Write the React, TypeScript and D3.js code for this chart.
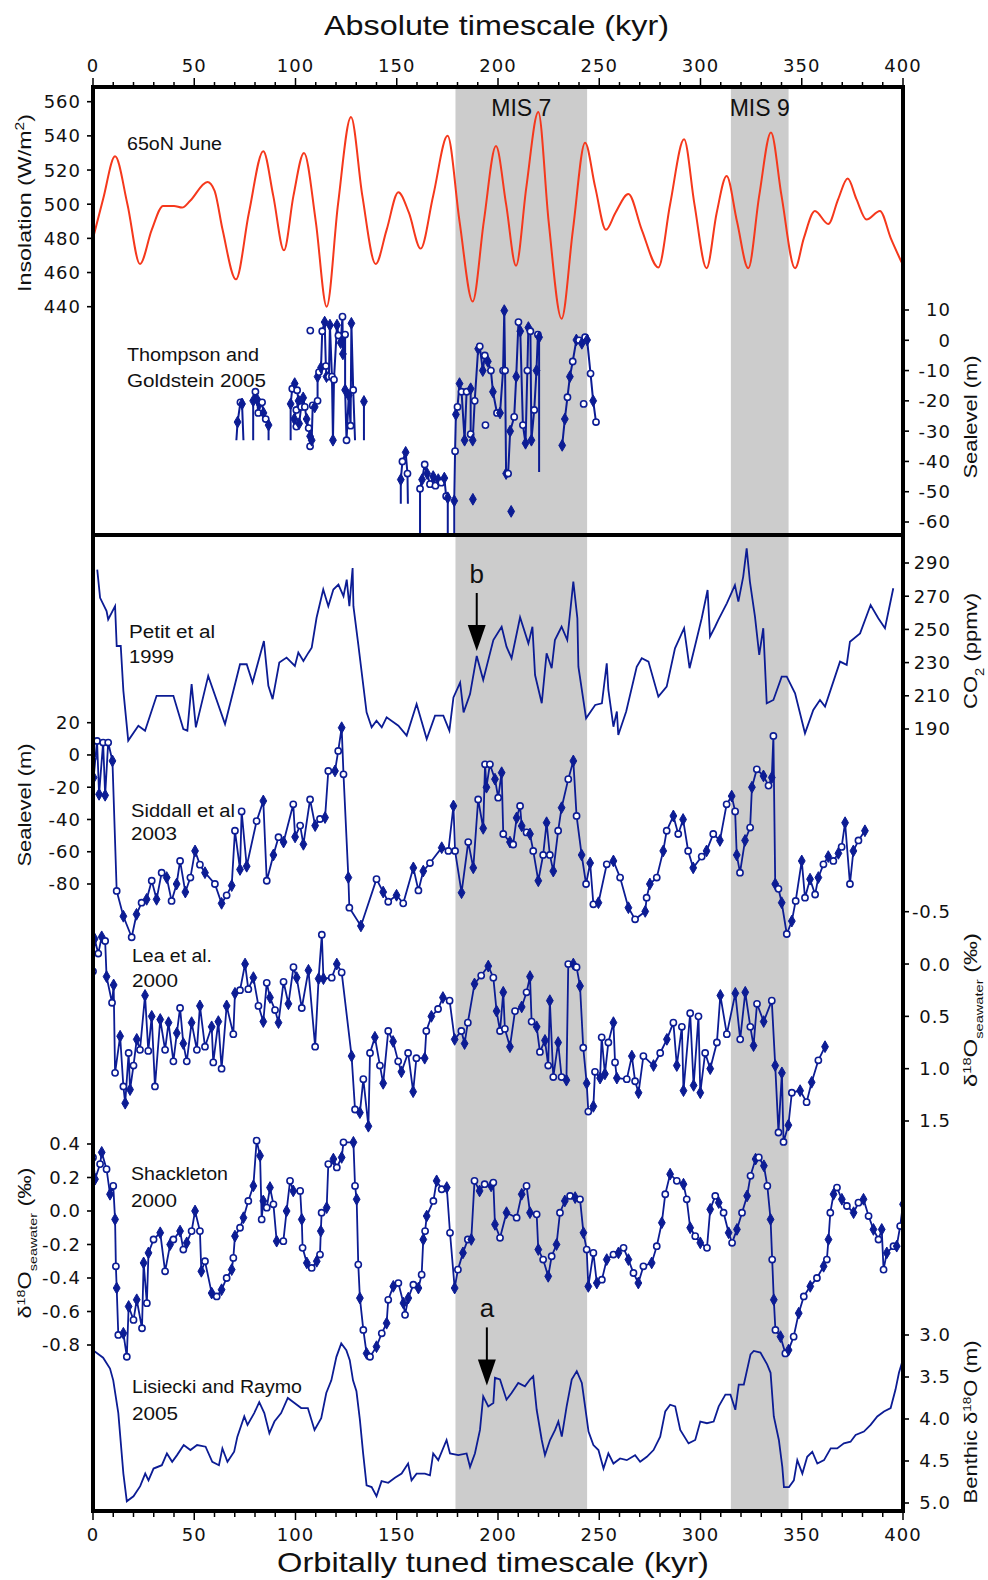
import React from 'react';
import * as d3 from 'd3';

// ---------------- DATA ----------------
const kyrMajorTicks = [0, 50, 100, 150, 200, 250, 300, 350, 400];
const kyrMinorTicks = d3.range(0, 401, 10);

const misBands: [number, number, string][] = [
  [179, 244, 'MIS 7'],
  [315, 343.5, 'MIS 9'],
];

const insolationTicks = [440, 460, 480, 500, 520, 540, 560];
const thompsonTicks = [-60, -50, -40, -30, -20, -10, 0, 10];
const co2Ticks = [190, 210, 230, 250, 270, 290];
const siddallTicks = [-80, -60, -40, -20, 0, 20];
const leaTicks = [-0.5, 0.0, 0.5, 1.0, 1.5];
const shackletonTicks = [-0.8, -0.6, -0.4, -0.2, 0.0, 0.2, 0.4];
const benthicTicks = [3.0, 3.5, 4.0, 4.5, 5.0];

// 65N June insolation (W/m2)
const insolation: [number, number][] = [
  [0, 480], [5, 503], [10.9, 528], [17, 500], [23.2, 465], [29, 485], [34.6, 499], [40, 499], [44, 498], [48, 502],
  [56.5, 513], [60, 508], [64, 485], [70.6, 456], [77, 495], [84.1, 531], [89, 505], [94.3, 473], [99, 505],
  [104.2, 530], [110, 490], [115.4, 440], [121, 500], [127.4, 551], [133, 505], [139.6, 465], [145, 485],
  [150.8, 507], [156, 495], [161.8, 474], [168, 505], [175.1, 540], [181, 490], [187.5, 443], [193, 490],
  [199, 534], [204, 500], [208.9, 464], [214, 510], [219.9, 554], [225, 490], [231.4, 433], [237, 485],
  [243, 536], [248, 510], [253.3, 485], [258, 495], [264.4, 506], [271, 485], [279.2, 463], [285, 500],
  [291.9, 538], [297, 500], [303, 462.5], [308, 495], [312.9, 516.5], [318, 490], [323.6, 462.5], [329, 505],
  [334.8, 542], [340, 505], [346.7, 462.5], [351, 480], [356.5, 496], [363.1, 488.4], [368, 503], [372.7, 515],
  [377, 503], [382, 491], [388.6, 496], [394, 480], [399.3, 466],
];

// Thompson and Goldstein 2005 sea level (m); NaN = gap
const thompson: [number, number][] = [
  [70.8, -33], [71.4, -27], [72.8, -20.5], [73.6, -21], [74.3, -33], [NaN, NaN],
  [79.1, -33], [79.1, -20], [80.2, -17], [81, -19.5], [81.6, -24], [82.2, -21], [83.5, -20.5], [84.2, -24], [85.3, -26], [86.7, -28], [86.7, -33], [NaN, NaN],
  [97.6, -33], [97.6, -21], [98.4, -16], [99.6, -14.3], [100.8, -16.5], [101.5, -20], [100.4, -23], [99.4, -26], [100.4, -28.5],
  [101.8, -27.5], [102.8, -22], [103.8, -19], [104.6, -22], [105.5, -26], [106.5, -29], [107.2, -31.7], [107.2, -35], [108, -33],
  [108.5, -21.5], [109.5, -22], [110.9, -20], [110.9, -12], [111.6, -10.5], [112.6, -9], [113.2, 3], [114.4, 6], [115, -8.5],
  [115.3, -12], [116.5, -12], [117, 5], [118, -12], [118.5, -33], [119, -13], [120.5, 5], [121.2, 1.6], [122.3, -0.8],
  [123.2, 7.8], [123.4, -4.5], [124.5, 1.9], [124.5, -16.4], [125.2, -33], [126.3, -18.2], [127.2, -28.2], [127.6, 5.6],
  [128.5, -16.4], [129.4, -33], [NaN, NaN],
  [133.8, -33], [133.8, -20.2], [NaN, NaN],
  [152, -54], [152, -46], [152.8, -40], [154.4, -37], [155.3, -44], [155.5, -54], [NaN, NaN],
  [161.5, -65], [161.5, -49], [162.5, -46], [163.8, -41], [165, -44], [166.4, -47.5], [168, -45], [169.1, -48], [170.5, -46],
  [172, -47], [173.5, -45.5], [174.4, -51.5], [175.2, -52], [175.2, -65], [NaN, NaN],
  [178.4, -65], [178.4, -53], [178.8, -36.6], [179.2, -24.5], [180, -22], [181, -14.3], [182, -17], [183.5, -33], [184.5, -17],
  [186.5, -16], [186.5, -31], [187.5, -33], [188.5, -20], [190.2, -2.8], [191, -2], [192.5, -10], [193.5, -5], [195, -7],
  [196.5, -10], [197.5, -17], [199.5, -24], [201, -24], [202.5, -10], [203.1, 9.8], [203.5, -10], [204, -44], [205, -44],
  [206, -30], [208, -25.3], [209, -12], [210.1, 6], [211, 3], [212.3, -28], [213.6, -34], [214.5, -10], [215, 4.2], [216, 3],
  [216.5, -33], [217.9, -23], [219, -10], [219.7, 1.9], [220.3, 1], [220.3, -43.5], [NaN, NaN],
  [231.7, -34.7], [233, -26], [234.3, -18.8], [235.5, -12], [236.9, -7], [238.7, 0.1], [240, 0], [241.4, -1], [243, 1],
  [244, 0.1], [245.7, -11], [247, -20], [248.4, -27],
];
const thompsonSingles: [number, number][] = [
  [107.3, 3.2], [187.6, -52.5], [193.8, -28], [206.5, -56.5], [242.3, -21], [231.7, -34.7], [248.4, -27], [133.8, -20.2],
];

// Petit et al 1999 CO2 (ppmv)
const petitCO2: [number, number][] = [
  [2.1, 286], [3.5, 269], [6.7, 261], [7.5, 256], [10.9, 264], [11.7, 240], [13.7, 240], [15, 213], [17.4, 183],
  [22.4, 192], [25.7, 189], [31.4, 210], [39.7, 210], [44.6, 190], [46.6, 189], [48.7, 217], [50.8, 191], [56.9, 222],
  [65.2, 193], [72.6, 229], [75.9, 229], [78.8, 218], [84.4, 243], [86.6, 216], [88.7, 208], [92, 230], [95.6, 233],
  [99.7, 228], [101.4, 236], [103.9, 231], [106.4, 236], [108, 239], [110.4, 257], [113.7, 274], [116.2, 264],
  [118.7, 274], [121.2, 277], [123.7, 270], [125.3, 280], [126.6, 264], [128.2, 287], [128.6, 264], [131, 241],
  [135.1, 200], [137.6, 191], [140, 195], [142.6, 191], [145, 197], [150.8, 192], [154.9, 186], [159.8, 205],
  [164.8, 184], [168.9, 198], [173, 198], [176, 189], [178, 209], [181.3, 218], [183, 200], [186.2, 211], [189.5, 234],
  [192.7, 219.5], [197.7, 243.6], [201.8, 251.6], [204.2, 239.6], [206.7, 232.6], [210.9, 257.3], [215, 241.6],
  [217, 251.6], [218.3, 222.5], [221.6, 205.5], [224, 235.6], [226.5, 226.6], [228.1, 243.6], [231.4, 251.6],
  [234.2, 243.6], [237.2, 278.8], [239.2, 256.7], [239.7, 227.5], [243.5, 196.4], [248, 204.5], [251.3, 205.5],
  [253.7, 229.6], [254.5, 213.5], [257, 191.4], [258.7, 200.5], [259.4, 186.4], [263.3, 200.5], [268.5, 227.5],
  [271, 232.6], [274.3, 230.6], [279.2, 209.5], [283.3, 215.5], [287.4, 238.6], [291.9, 250.7], [294.6, 226.6],
  [297.4, 240.6], [300.6, 256.7], [303.5, 273.7], [304.7, 245.6], [307.2, 251.6], [308.8, 255.7], [313, 265.7],
  [317, 276.7], [318.7, 266.7], [321.1, 281.8], [322.8, 298.8], [324.4, 278.8], [326.9, 257.7], [329, 234.6],
  [331, 250.7], [332.7, 205.5], [336, 207.5], [340.1, 221.5], [342.6, 221.5], [346.7, 211.5], [351.6, 187.4],
  [355.7, 201.5], [359, 207.5], [361.5, 203.5], [368.9, 230.6], [372.2, 228.6], [373.8, 242.6], [378.8, 247.6],
  [384, 264.7], [387.8, 256.7], [391.1, 250.7], [395.2, 274.8],
];

// Siddall et al 2003 sea level (m)
const siddall: [number, number][] = [
  [0, -1.6], [0.3, -14], [2, 8.7], [3, -24.4], [5, 7.7], [6, -25], [7.5, 7.7], [9.6, -3.7], [11.7, -84.3], [15, -100],
  [19.1, -113], [21.5, -98.8], [24, -91.6], [26.5, -89.5], [29, -78], [31.4, -89.5], [33.9, -73], [36.4, -76],
  [38.8, -90.5], [41.3, -80], [43, -65.7], [45.6, -85], [48.1, -76], [50.4, -59.5], [52.8, -68], [55.3, -73],
  [60.2, -80], [63.5, -92], [66, -87], [68.5, -81], [70.1, -47], [72.6, -71], [73.4, -35], [75.9, -69], [80.8, -41],
  [84.1, -28.5], [85.8, -78], [89.1, -62], [91.6, -51], [94.1, -54], [98.9, -30.6], [99.8, -50.8], [102.3, -43.8],
  [103.9, -55.4], [107.2, -27.6], [109.7, -43.8], [112.1, -39.7], [114.6, -38.8], [116.2, -9.9], [119.5, -9.9],
  [121.1, 2.5], [122.8, 16.9], [123.7, -12], [126.1, -76], [126.6, -94.7], [132.3, -106], [140, -77], [143.3, -85],
  [145.8, -91], [149.9, -87], [153.2, -92], [158.2, -70], [160.7, -84], [163.1, -72], [166.4, -67], [172.2, -57.5],
  [175.5, -59.5], [178, -31.6], [178.8, -59.5], [182, -85.4], [185.3, -54], [187.8, -70], [190.2, -27.6],
  [192.7, -45.5], [193.6, -5.8], [194.3, -20], [196, -5.8], [198.5, -15], [200.1, -26.5], [201.8, -11], [202.6, -49],
  [205.9, -54], [207.5, -55.5], [209.2, -39], [210.9, -31.6], [211.7, -44], [214.1, -48], [215.8, -49], [217.4, -59.5],
  [219.9, -78], [222.3, -62], [224, -42], [225.6, -62], [227.3, -72], [229.7, -47], [231.4, -32.7], [234.7, -15],
  [237.2, -3.7], [238.8, -37.8], [241.3, -62], [243.5, -80], [245.5, -67], [247.1, -92.6], [249.6, -91.6],
  [253.7, -67.8], [257, -65.7], [260.3, -76], [264.4, -94.7], [267.7, -101.9], [272.7, -97], [273.4, -88.5], [275, -80],
  [278.4, -76], [281.6, -59.5], [283.3, -47], [286.6, -37.8], [289, -49], [291.4, -40], [293.9, -59.5], [296.4, -70],
  [300.6, -63], [303, -59.5], [306.3, -49], [309.6, -53], [312.9, -30.6], [315.4, -25.5], [317.1, -35], [317.9, -62],
  [319.5, -73], [322, -53], [324.5, -45], [325.4, -20], [327.8, -8.9], [331.1, -13], [333.6, -19], [335.2, -14],
  [336, 11.8], [336.9, -80], [338.5, -83], [340.1, -91.6], [342.6, -111], [345.1, -103], [347, -90.5], [350, -65.7],
  [351.6, -88.5], [354.1, -77], [356.6, -86.5], [358.2, -76], [360.7, -67.8], [363.1, -63], [365.6, -65.7],
  [368.1, -61], [369.7, -57], [371.4, -42], [373.8, -80], [375.5, -59.5], [378, -53], [381.2, -47],
];

// Lea et al 2000 d18O seawater (permil)
const lea: [number, number][] = [
  [0, 0.07], [0.8, -0.24], [2.6, -0.1], [4.3, -0.26], [6, -0.22], [6.7, 0.12], [9.4, 0.37], [10.2, 0.2], [10.9, 1.04],
  [13.4, 0.69], [15, 1.17], [15.9, 1.33], [17.6, 0.85], [18.3, 1.2], [20, 0.97], [21.6, 0.72], [23.2, 0.82], [25.7, 0.3],
  [27.3, 0.83], [29, 0.5], [30.6, 1.17], [33.2, 0.53], [35.6, 0.82], [37.3, 0.56], [39.7, 0.93], [41.4, 0.66], [43, 0.42],
  [44.6, 0.76], [46.3, 0.93], [48.7, 0.56], [51.3, 0.82], [52.8, 0.4], [55.3, 0.79], [58.6, 0.6], [59.4, 0.94],
  [61.9, 0.55], [63.5, 1.0], [66, 0.4], [69.3, 0.67], [70.1, 0.28], [72.6, 0.25], [75.1, 0.0], [76.7, 0.24], [79.2, 0.13],
  [81.7, 0.4], [84.1, 0.55], [85.8, 0.18], [87.4, 0.32], [89.9, 0.44], [91.6, 0.56], [94.1, 0.17], [96.5, 0.38], [99, 0.03],
  [100.6, 0.13], [103.1, 0.42], [106.4, 0.06], [109.7, 0.79], [111.4, 0.14], [113, -0.28], [113.8, 0.14], [117.9, 0.13],
  [120.4, 0.0], [122.8, 0.08], [127.7, 0.88], [129.4, 1.39], [131.8, 1.42], [133.5, 1.1], [136, 1.55], [136.8, 0.85],
  [139.2, 0.7], [141.7, 0.97], [143.3, 1.14], [145.8, 0.64], [148.2, 0.74], [150.7, 0.93], [152.3, 1.03], [155.6, 0.85],
  [158.1, 1.22], [159.7, 0.9], [163.8, 0.9], [164.6, 0.64], [167.1, 0.5], [170.4, 0.43], [172.8, 0.32], [176.1, 0.35],
  [178.6, 0.72], [181.9, 0.64], [183.5, 0.76], [185.1, 0.56], [188.4, 0.19], [191.7, 0.11], [195.2, 0.02], [197.7, 0.13],
  [199.3, 0.45], [201, 0.64], [202.6, 0.27], [203.4, 0.62], [205.9, 0.79], [208.4, 0.45], [211.7, 0.41], [214.1, 0.27],
  [215.8, 0.12], [216.6, 0.55], [219.1, 0.6], [220.7, 0.84], [223.2, 0.73], [224.8, 0.97], [225.6, 0.35], [227.3, 1.08],
  [229.7, 0.75], [231.4, 1.08], [233.8, 1.11], [234.7, 0.0], [237.2, 0.0], [238.8, 0.03], [240.5, 0.21], [242.1, 0.8],
  [243.8, 1.14], [244.6, 1.41], [247.1, 1.36], [247.9, 1.03], [250.4, 1.09], [251.2, 0.7], [252.8, 1.05], [254.5, 0.75],
  [257, 0.56], [257.8, 0.94], [258.7, 1.09], [263.6, 1.1], [266.1, 0.88], [267.7, 1.12], [269.4, 1.23], [271.8, 0.88],
  [276.8, 0.97], [280.1, 0.85], [283.4, 0.72], [286.6, 0.56], [288.3, 0.97], [290.8, 0.6], [291.6, 1.21], [294.9, 0.47],
  [296.6, 1.16], [299, 0.5], [299.9, 1.23], [302.3, 0.85], [304.8, 1.0], [308.1, 0.75], [309.8, 0.3], [313, 0.67],
  [317.2, 0.28], [319.6, 0.72], [322.1, 0.27], [324.6, 0.6], [326.2, 0.78], [327.9, 0.38], [331.2, 0.55], [335.2, 0.35],
  [336.9, 0.97], [338.5, 1.61], [340.2, 1.04], [341, 1.7], [343.4, 1.54], [345.1, 1.23], [349.2, 1.21], [352.4, 1.32],
  [354.9, 1.13], [358.2, 0.92], [361.5, 0.79],
];

// Shackleton 2000 d18O seawater (permil)
const shackleton: [number, number][] = [
  [0, 0.32], [1, 0.19], [3.5, 0.28], [4.3, 0.35], [6.7, 0.25], [8.4, 0.1], [10, 0.15], [10.9, -0.05], [11.3, -0.33],
  [11.7, -0.46], [12.5, -0.74], [15, -0.73], [16.7, -0.87], [17.6, -0.57], [20, -0.65], [21.6, -0.53], [24.2, -0.7],
  [25, -0.31], [26.6, -0.55], [27.4, -0.25], [29.9, -0.17], [33.2, -0.13], [35.6, -0.36], [38.1, -0.2], [39.7, -0.17],
  [43, -0.12], [44.6, -0.23], [46.3, -0.19], [48.7, -0.12], [50.4, 0.0], [52.8, -0.12], [53.5, -0.36], [55.3, -0.3],
  [58.6, -0.49], [61.1, -0.51], [63.5, -0.47], [66, -0.4], [68.5, -0.35], [69.3, -0.28], [70.1, -0.15], [72.6, -0.1],
  [74.3, -0.04], [76.7, 0.06], [79.2, 0.15], [80.8, 0.42], [82.5, 0.33], [83.3, -0.05], [84.1, 0.06], [85.8, 0.02],
  [87.4, 0.14], [89.1, 0.04], [90.7, -0.18], [94, -0.18], [95.6, 0.0], [97.3, 0.18], [98.9, 0.12], [102.3, 0.12],
  [103.1, -0.05], [103.5, -0.22], [105.6, -0.31], [108, -0.34], [110.5, -0.3], [112.1, -0.26], [112.5, -0.12],
  [112.9, -0.01], [115.4, 0.02], [116.2, 0.28], [118.7, 0.31], [120.4, 0.26], [122.8, 0.32], [123.7, 0.41], [128.6, 0.41],
  [129.4, 0.15], [130.2, 0.07], [131, -0.32], [131.8, -0.52], [133.5, -0.71], [135.1, -0.85], [136.8, -0.87], [140, -0.81],
  [142.6, -0.73], [145, -0.67], [145.8, -0.53], [148.3, -0.45], [150.8, -0.43], [153.3, -0.55], [154.1, -0.62],
  [155.7, -0.52], [158.2, -0.44], [160.7, -0.46], [162.3, -0.38], [163.1, -0.17], [164, -0.12], [164.8, -0.03],
  [168.1, 0.06], [169.7, 0.18], [172.2, 0.13], [174.7, 0.14], [176.3, -0.13], [178.6, -0.46], [180.2, -0.35],
  [182.7, -0.25], [185.1, -0.17], [186.8, -0.17], [188.4, 0.18], [190.9, 0.12], [193.4, 0.16], [196.6, 0.15],
  [197.7, 0.17], [198.5, -0.08], [201, -0.16], [204.2, -0.01], [209.2, -0.04], [211.7, 0.1], [214.1, 0.15], [215.8, -0.01],
  [219.1, -0.02], [219.9, -0.23], [222.3, -0.29], [224.8, -0.39], [226.5, -0.27], [228.9, -0.2], [230.6, -0.01],
  [233, 0.06], [235.6, 0.09], [238.1, 0.08], [240.5, 0.07], [242.2, -0.13], [243.8, -0.23], [244.6, -0.45], [247.1, -0.25],
  [248.8, -0.43], [251.3, -0.41], [253.7, -0.29], [257, -0.26], [259.5, -0.25], [262, -0.22], [264.4, -0.29],
  [266.9, -0.37], [269.3, -0.43], [271.8, -0.33], [275.9, -0.31], [278.4, -0.21], [280.9, -0.07], [282.6, 0.1],
  [285, 0.22], [288.3, 0.18], [291.6, 0.16], [293.2, 0.07], [294.9, -0.1], [297.4, -0.15], [299.9, -0.19], [303.2, -0.22],
  [304.8, 0.01], [307.3, 0.09], [309, 0.05], [311.4, -0.01], [313.9, -0.13], [315.6, -0.19], [318, -0.11], [320.5, -0.01],
  [323, 0.09], [324.7, 0.21], [327.2, 0.31], [328.8, 0.32], [331.3, 0.27], [333, 0.15], [334.6, -0.05], [335.4, -0.29],
  [336.2, -0.53], [337, -0.71], [339.5, -0.75], [341.9, -0.85], [343.5, -0.83], [346, -0.75], [348.5, -0.61], [351, -0.51],
  [354.2, -0.45], [357.5, -0.4], [360.8, -0.33], [362.4, -0.29], [363.2, -0.17], [364.1, -0.01], [365.7, 0.1],
  [367.4, 0.14], [369.8, 0.07], [372.3, 0.03], [375.6, -0.01], [378, 0.05], [380.5, 0.07], [383, -0.03], [385.4, -0.11],
  [387.9, -0.17], [389.5, -0.11], [390.4, -0.35], [392, -0.25], [395.3, -0.21], [396.9, -0.21], [398.6, -0.09], [400, 0.04],
];

// Lisiecki and Raymo 2005 benthic d18O
const lisiecki: [number, number][] = [
  [0, 3.18], [5, 3.27], [8.4, 3.4], [10, 3.54], [12.5, 3.93], [15, 4.65], [16.7, 4.98], [20, 4.92], [23.3, 4.8],
  [25.8, 4.65], [27.4, 4.73], [29.9, 4.59], [34, 4.55], [36.5, 4.41], [39.1, 4.51], [41.5, 4.43], [44.8, 4.31],
  [48.1, 4.37], [51.4, 4.31], [55.6, 4.33], [58.9, 4.51], [62.2, 4.55], [63.9, 4.35], [66.4, 4.51], [69.7, 4.39],
  [71.3, 4.21], [74.7, 3.97], [76.3, 4.07], [79.6, 3.93], [82.1, 3.8], [84.6, 3.93], [87.1, 4.17], [89.6, 4.03],
  [92.9, 3.93], [96.2, 3.75], [99.5, 3.81], [102.8, 3.87], [106.1, 3.87], [109.4, 4.13], [112.7, 3.99], [115.2, 3.69],
  [117.7, 3.54], [120.2, 3.26], [122.6, 3.1], [125.1, 3.18], [126.8, 3.3], [128.4, 3.54], [130.1, 3.67], [131.8, 4.01],
  [133.4, 4.41], [135.1, 4.79], [137.6, 4.81], [140, 4.92], [142.5, 4.74], [145.8, 4.76], [149.1, 4.7], [152.4, 4.65],
  [155.6, 4.53], [157.3, 4.73], [159.8, 4.65], [163.9, 4.65], [166.4, 4.67], [168, 4.41], [170.5, 4.49], [174.6, 4.25],
  [176.3, 4.41], [180.4, 4.43], [184.5, 4.41], [186.2, 4.57], [188.6, 4.41], [191.1, 4.13], [192.7, 3.73], [195.2, 3.85],
  [197.7, 3.81], [198.5, 3.51], [201, 3.53], [204.2, 3.77], [206.7, 3.69], [210, 3.57], [213.3, 3.61], [215.8, 3.53],
  [217.4, 3.49], [219.1, 3.89], [221.6, 4.25], [223.2, 4.43], [225.7, 4.25], [228.2, 4.13], [229.8, 4.03], [231.5, 4.21],
  [233.9, 3.85], [236.4, 3.53], [238.9, 3.43], [241.4, 3.57], [243, 3.85], [244.7, 4.15], [247.1, 4.31], [249.6, 4.37],
  [252.1, 4.59], [254.5, 4.41], [257, 4.53], [260.3, 4.47], [263.6, 4.49], [267.7, 4.43], [270.2, 4.51], [273.5, 4.45],
  [276.8, 4.37], [280.1, 4.21], [282.6, 3.91], [285, 3.83], [287.5, 3.85], [290, 4.13], [294.1, 4.29], [297.4, 4.25],
  [299.9, 4.03], [303.2, 4.05], [306.5, 4.03], [309, 3.85], [312.3, 3.71], [314.8, 3.71], [317.2, 3.89], [318.9, 3.59],
  [321.4, 3.59], [324.7, 3.23], [326.3, 3.19], [329.6, 3.21], [332.9, 3.35], [334.6, 3.45], [336.2, 3.97], [338.7, 4.25],
  [340.4, 4.57], [341.2, 4.81], [343.7, 4.81], [346.1, 4.73], [347.8, 4.49], [350.3, 4.65], [352.7, 4.45], [355.2, 4.39],
  [357.7, 4.53], [361, 4.49], [364.3, 4.35], [367.5, 4.35], [370.8, 4.29], [374.1, 4.27], [376.6, 4.19], [380.7, 4.15],
  [384, 4.07], [387.3, 3.97], [390.6, 3.91], [393.9, 3.87], [396.3, 3.65], [398, 3.45], [400, 3.29],
];

// annotation arrows: [kyr, value on the series axis]
const arrowB: [number, number] = [189.5, 237];
const arrowA: [number, number] = [194.5, 3.6];

// ---------------- LAYOUT ----------------
const W = 988;
const H = 1580;
const X0 = 93;
const X1 = 903;
const TOP = 87;
const MID = 535;
const BOT = 1511;

const RED = '#f5381c';
const BLUE = '#0c1c94';
const GREY = '#cccccc';
const SANS = '"Liberation Sans", Arial, sans-serif';
const TICKFONT = '"DejaVu Sans", "Liberation Sans", sans-serif';

const x = d3.scaleLinear().domain([0, 400]).range([X0, X1]);
const yIns = d3.scaleLinear().domain([440, 560]).range([306.7, 101.7]);
const yTh = d3.scaleLinear().domain([-60, 10]).range([522, 310]);
const yCO2 = d3.scaleLinear().domain([190, 290]).range([729, 563]);
const ySid = d3.scaleLinear().domain([-80, 20]).range([884, 722.7]);
const yLea = d3.scaleLinear().domain([-0.5, 1.5]).range([911.7, 1121]);
const yShk = d3.scaleLinear().domain([-0.8, 0.4]).range([1345, 1144]);
const yBen = d3.scaleLinear().domain([3.0, 5.0]).range([1335, 1503]);

function linePath(data: [number, number][], ys: d3.ScaleLinear<number, number>, curve: any = d3.curveLinear) {
  return (
    d3
      .line<[number, number]>()
      .defined((d) => !isNaN(d[0]) && !isNaN(d[1]))
      .x((d) => x(d[0]))
      .y((d) => ys(d[1]))
      .curve(curve)(data) || ''
  );
}

const diamond = d3.symbol().type(d3.symbolDiamond).size(40)() || '';

function Markers({ data, ys, skipEnds }: { data: [number, number][]; ys: d3.ScaleLinear<number, number>; skipEnds?: boolean }) {
  return (
    <g>
      {data.map((d, i) => {
        if (isNaN(d[1])) return null;
        if (skipEnds) {
          const prev = data[i - 1];
          const next = data[i + 1];
          if (!prev || isNaN(prev[1]) || !next || isNaN(next[1])) return null;
        }
        const cx = x(d[0]);
        const cy = ys(d[1]);
        return i % 2 === 0 ? (
          <circle key={i} cx={cx} cy={cy} r={3.1} fill="#fff" stroke={BLUE} strokeWidth={1.6} />
        ) : (
          <path key={i} d={diamond} transform={`translate(${cx},${cy})`} fill={BLUE} stroke={BLUE} strokeWidth={1} />
        );
      })}
    </g>
  );
}

const fmtInt = (v: number) => String(v);
const fmtDec = (v: number) => v.toFixed(1);

function YTicks({
  ticks, ys, side, fmt,
}: { ticks: number[]; ys: d3.ScaleLinear<number, number>; side: 'left' | 'right'; fmt: (v: number) => string }) {
  return (
    <g>
      {ticks.map((t) => {
        const yy = ys(t);
        return (
          <g key={t}>
            {side === 'left' ? (
              <line x1={X0 - 6} x2={X0} y1={yy} y2={yy} stroke="#000" strokeWidth={1.6} />
            ) : (
              <line x1={X1} x2={X1 + 6} y1={yy} y2={yy} stroke="#000" strokeWidth={1.6} />
            )}
            <text
              x={side === 'left' ? 81 : 951}
              y={yy}
              dy="0.36em"
              textAnchor="end"
              fontFamily={TICKFONT}
              fontSize={18}
              style={{ letterSpacing: '1px' }}
              fill="#111"
            >
              {fmt(t)}
            </text>
          </g>
        );
      })}
    </g>
  );
}

function Label({ x0, y0, w, children }: { x0: number; y0: number; w: number; children: React.ReactNode }) {
  return (
    <text x={x0} y={y0} fontFamily={SANS} fontSize={18} fill="#111" textLength={w} lengthAdjust="spacingAndGlyphs">
      {children}
    </text>
  );
}

function VTitle({ cx, cy, len, children }: { cx: number; cy: number; len: number; children: React.ReactNode }) {
  return (
    <text
      transform={`translate(${cx},${cy}) rotate(-90)`}
      textAnchor="middle"
      fontFamily={SANS}
      fontSize={18}
      fill="#111"
      textLength={len}
      lengthAdjust="spacingAndGlyphs"
    >
      {children}
    </text>
  );
}

function Arrow({ xx, tip, label }: { xx: number; tip: number; label: string }) {
  const headLen = 26;
  const start = tip - 58;
  return (
    <g>
      <text x={xx} y={start - 10} textAnchor="middle" fontFamily={SANS} fontSize={26} fill="#111">
        {label}
      </text>
      <line x1={xx} x2={xx} y1={start} y2={tip - headLen + 2} stroke="#000" strokeWidth={2} />
      <path d={`M${xx - 9},${tip - headLen} L${xx + 9},${tip - headLen} L${xx},${tip} Z`} fill="#000" />
    </g>
  );
}

export default function App() {
  return (
    <svg
      width={W}
      height={H}
      viewBox={`0 0 ${W} ${H}`}
      style={{ position: 'absolute', left: 0, top: 0, background: '#fff' }}
    >
      <defs>
        <clipPath id="clipTop">
          <rect x={X0} y={TOP} width={X1 - X0} height={MID - TOP} />
        </clipPath>
        <clipPath id="clipBot">
          <rect x={X0} y={MID} width={X1 - X0} height={BOT - MID} />
        </clipPath>
      </defs>
      <rect x={0} y={0} width={W} height={H} fill="#fff" />

      {/* MIS shading */}
      {misBands.map(([a, b, name]) => (
        <g key={name}>
          <rect x={x(a)} y={TOP} width={x(b) - x(a)} height={BOT - TOP} fill={GREY} />
          <text x={(x(a) + x(b)) / 2} y={116} textAnchor="middle" fontFamily={SANS} fontSize={23} fill="#111">
            {name}
          </text>
        </g>
      ))}

      {/* Top panel series */}
      <g clipPath="url(#clipTop)">
        <path d={linePath(insolation, yIns, d3.curveMonotoneX)} fill="none" stroke={RED} strokeWidth={2} />
        <path d={linePath(thompson, yTh)} fill="none" stroke={BLUE} strokeWidth={2} />
        <Markers data={thompson} ys={yTh} skipEnds />
        <Markers data={thompsonSingles} ys={yTh} />
      </g>

      {/* Bottom panel series */}
      <g clipPath="url(#clipBot)">
        <path d={linePath(petitCO2, yCO2)} fill="none" stroke={BLUE} strokeWidth={1.8} />
        <path d={linePath(siddall, ySid)} fill="none" stroke={BLUE} strokeWidth={1.8} />
        <Markers data={siddall} ys={ySid} />
        <path d={linePath(lea, yLea)} fill="none" stroke={BLUE} strokeWidth={1.8} />
        <Markers data={lea} ys={yLea} />
        <path d={linePath(shackleton, yShk)} fill="none" stroke={BLUE} strokeWidth={1.8} />
        <Markers data={shackleton} ys={yShk} />
        <path d={linePath(lisiecki, yBen)} fill="none" stroke={BLUE} strokeWidth={1.8} />
      </g>

      {/* Frames */}
      <rect x={X0} y={TOP} width={X1 - X0} height={MID - TOP} fill="none" stroke="#000" strokeWidth={4} />
      <rect x={X0} y={MID} width={X1 - X0} height={BOT - MID} fill="none" stroke="#000" strokeWidth={4} />

      {/* Top x axis */}
      <line x1={X0} x2={X1} y1={TOP - 1} y2={TOP - 1} stroke="#000" strokeWidth={1.5} />
      {kyrMinorTicks.map((t) => (
        <line
          key={'tt' + t}
          x1={x(t)}
          x2={x(t)}
          y1={TOP}
          y2={TOP - (t % 50 === 0 ? 9 : 5)}
          stroke="#000"
          strokeWidth={1.5}
        />
      ))}
      {kyrMajorTicks.map((t) => (
        <text
          key={'tl' + t}
          x={x(t)}
          y={71.5}
          textAnchor="middle"
          fontFamily={TICKFONT}
          fontSize={18}
          style={{ letterSpacing: '1px' }}
          fill="#111"
        >
          {fmtInt(t)}
        </text>
      ))}
      <text x={496.5} y={35} textAnchor="middle" fontFamily={SANS} fontSize={28} fill="#111" textLength={345} lengthAdjust="spacingAndGlyphs">
        Absolute timescale (kyr)
      </text>

      {/* Bottom x axis */}
      {kyrMinorTicks.map((t) => (
        <line
          key={'bt' + t}
          x1={x(t)}
          x2={x(t)}
          y1={BOT}
          y2={BOT + (t % 50 === 0 ? 9 : 6)}
          stroke="#000"
          strokeWidth={1.5}
        />
      ))}
      {kyrMajorTicks.map((t) => (
        <text
          key={'bl' + t}
          x={x(t)}
          y={1541}
          textAnchor="middle"
          fontFamily={TICKFONT}
          fontSize={18}
          style={{ letterSpacing: '1px' }}
          fill="#111"
        >
          {fmtInt(t)}
        </text>
      ))}
      <text x={493} y={1572} textAnchor="middle" fontFamily={SANS} fontSize={28} fill="#111" textLength={432} lengthAdjust="spacingAndGlyphs">
        Orbitally tuned timescale (kyr)
      </text>

      {/* Y axes */}
      <YTicks ticks={insolationTicks} ys={yIns} side="left" fmt={fmtInt} />
      <YTicks ticks={thompsonTicks} ys={yTh} side="right" fmt={fmtInt} />
      <YTicks ticks={co2Ticks} ys={yCO2} side="right" fmt={fmtInt} />
      <YTicks ticks={siddallTicks} ys={ySid} side="left" fmt={fmtInt} />
      <YTicks ticks={leaTicks} ys={yLea} side="right" fmt={fmtDec} />
      <YTicks ticks={shackletonTicks} ys={yShk} side="left" fmt={fmtDec} />
      <YTicks ticks={benthicTicks} ys={yBen} side="right" fmt={fmtDec} />

      {/* Axis titles */}
      <VTitle cx={31} cy={203} len={178}>
        Insolation (W/m<tspan baselineShift="super" fontSize={12}>2</tspan>)
      </VTitle>
      <VTitle cx={977} cy={417} len={123}>
        Sealevel (m)
      </VTitle>
      <VTitle cx={977} cy={651} len={116}>
        CO<tspan baselineShift="sub" fontSize={12}>2</tspan> (ppmv)
      </VTitle>
      <VTitle cx={31} cy={805} len={123}>
        Sealevel (m)
      </VTitle>
      <VTitle cx={977} cy={1010} len={154}>
        δ<tspan baselineShift="super" fontSize={11}>18</tspan>O<tspan baselineShift="sub" fontSize={11}>seawater</tspan> (‰)
      </VTitle>
      <VTitle cx={31} cy={1243} len={151}>
        δ<tspan baselineShift="super" fontSize={11}>18</tspan>O<tspan baselineShift="sub" fontSize={11}>seawater</tspan> (‰)
      </VTitle>
      <VTitle cx={977} cy={1422} len={163}>
        Benthic δ<tspan baselineShift="super" fontSize={11}>18</tspan>O (m)
      </VTitle>

      {/* Series labels */}
      <Label x0={127} y0={150} w={95}>65oN June</Label>
      <Label x0={127} y0={361} w={132}>Thompson and</Label>
      <Label x0={127} y0={387} w={139}>Goldstein 2005</Label>
      <Label x0={129} y0={638} w={86}>Petit et al</Label>
      <Label x0={129} y0={663} w={45}>1999</Label>
      <Label x0={131} y0={817} w={104}>Siddall et al</Label>
      <Label x0={131} y0={840} w={46}>2003</Label>
      <Label x0={132} y0={962} w={80}>Lea et al.</Label>
      <Label x0={132} y0={987} w={46}>2000</Label>
      <Label x0={131} y0={1180} w={97}>Shackleton</Label>
      <Label x0={131} y0={1207} w={46}>2000</Label>
      <Label x0={132} y0={1393} w={170}>Lisiecki and Raymo</Label>
      <Label x0={132} y0={1420} w={46}>2005</Label>

      {/* Arrows */}
      <Arrow xx={x(arrowB[0])} tip={yCO2(arrowB[1])} label="b" />
      <Arrow xx={x(arrowA[0])} tip={yBen(arrowA[1])} label="a" />
    </svg>
  );
}
